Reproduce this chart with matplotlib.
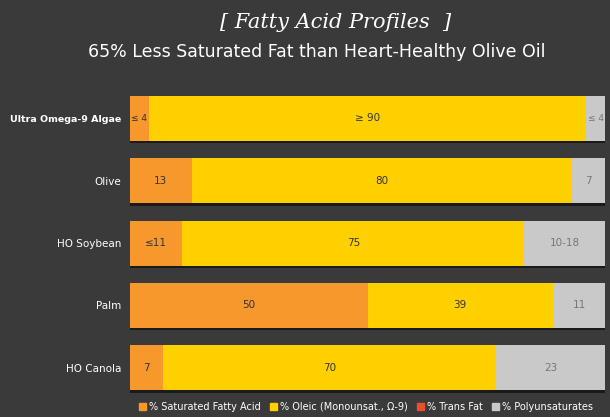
import matplotlib
matplotlib.use("Agg")
from matplotlib import pyplot as plt
from matplotlib.patches import Patch

oils = ["Ultra Omega-9 Algae", "Olive", "HO Soybean", "Palm", "HO Canola"]
saturated = [4, 13, 11, 50, 7]
oleic = [92, 80, 72, 39, 70]
poly = [4, 7, 17, 11, 23]
sat_labels = ["≤ 4", "13", "≤11", "50", "7"]
oleic_labels = ["≥ 90", "80", "75", "39", "70"]
poly_labels = ["≤ 4", "7", "10-18", "11", "23"]

ORANGE = "#F7982D"
YELLOW = "#FFD000"
RED = "#E8502A"
GRAY = "#C9C9C9"
BG = "#3a3a3a"

fig = plt.figure(figsize=(6.1, 4.17), dpi=100, facecolor=BG)
ax = fig.add_axes([0.213, 0.043, 0.779, 0.748], facecolor=BG)

ypos = list(range(len(oils)))
h = 0.72
left2 = [s for s in saturated]
left3 = [s + o for s, o in zip(saturated, oleic)]

# shadow under each bar
ax.barh([y + 0.04 for y in ypos], [100] * len(oils), height=h, color="#1a1a1a", zorder=1)
ax.barh(ypos, saturated, height=h, color=ORANGE, zorder=2)
ax.barh(ypos, oleic, left=left2, height=h, color=YELLOW, zorder=2)
ax.barh(ypos, poly, left=left3, height=h, color=GRAY, zorder=2)

for i, y in enumerate(ypos):
    fs = 6.5 if i == 0 else 7.5
    ax.text(saturated[i] / 2, y, sat_labels[i], ha="center", va="center", fontsize=fs, color="#333333", zorder=3)
    ax.text(left2[i] + oleic[i] / 2, y, oleic_labels[i], ha="center", va="center", fontsize=7.5, color="#333333", zorder=3)
    ax.text(left3[i] + poly[i] / 2, y, poly_labels[i], ha="center", va="center", fontsize=fs, color="#777777", zorder=3)

ax.set_xlim(0, 100)
ax.set_ylim(4.5, -0.5)
ax.set_yticks(ypos)
ax.set_yticklabels(oils, color="white", fontsize=7.5)
ax.get_yticklabels()[0].set_fontweight("bold")
ax.get_yticklabels()[0].set_fontsize(6.8)
ax.tick_params(axis="y", length=0, pad=6)
ax.set_xticks([])
for sp in ax.spines.values():
    sp.set_visible(False)

fig.text(0.55, 0.945, "[ Fatty Acid Profiles  ]", ha="center", va="center", color="white",
         fontsize=15, family="DejaVu Serif", style="italic")
fig.text(0.52, 0.875, "65% Less Saturated Fat than Heart-Healthy Olive Oil", ha="center", va="center",
         color="white", fontsize=12.5)

handles = [Patch(color=ORANGE), Patch(color=YELLOW), Patch(color=RED), Patch(color=GRAY)]
labels = ["% Saturated Fatty Acid", "% Oleic (Monounsat., Ω-9)", "% Trans Fat", "% Polyunsaturates"]
fig.legend(handles, labels, loc="center", bbox_to_anchor=(0.6, 0.025), ncol=4, frameon=False,
           fontsize=7, labelcolor="white", handlelength=0.7, handleheight=0.7,
           handletextpad=0.3, columnspacing=1.0)

plt.savefig("out.png", dpi=100, facecolor=BG)
